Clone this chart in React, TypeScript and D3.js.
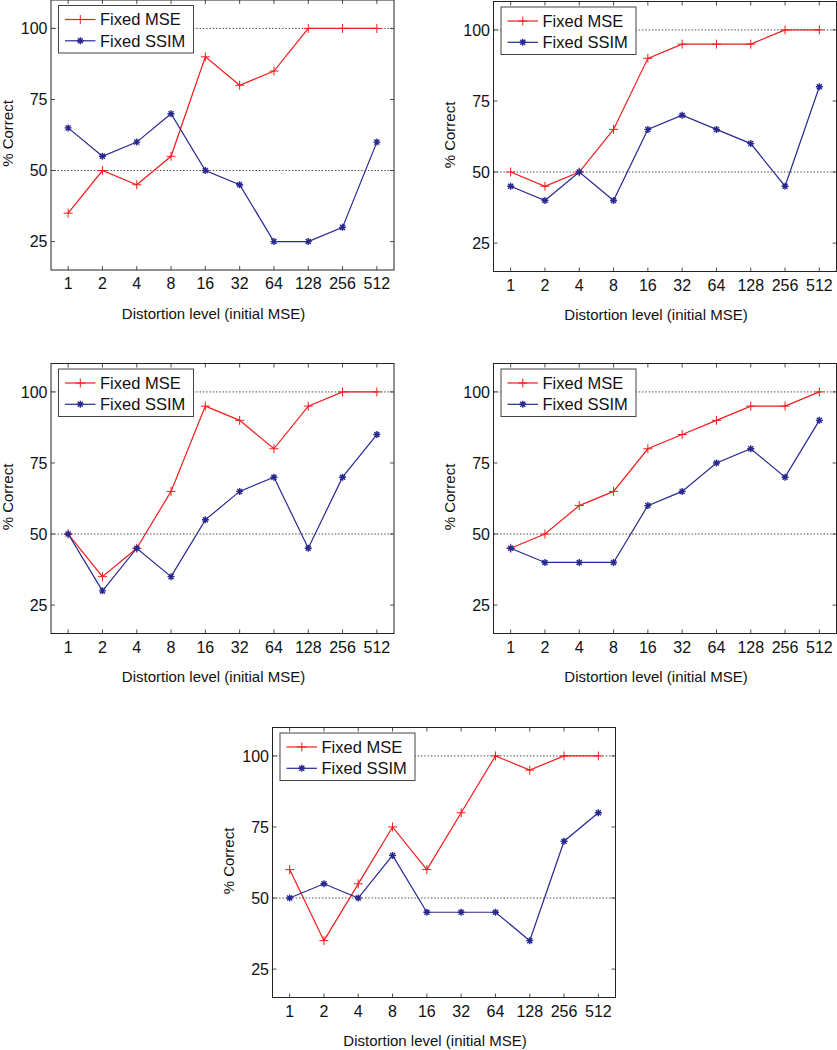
import React from "react";
import * as d3 from "d3";

const levels = ["1", "2", "4", "8", "16", "32", "64", "128", "256", "512"];
const yTicks = [25, 50, 75, 100];
const refLines = [50, 100];
const seriesNames = ["Fixed MSE", "Fixed SSIM"];

const mse1 = [35, 50, 45, 55, 90, 80, 85, 100, 100, 100];
const ssim1 = [65, 55, 60, 70, 50, 45, 25, 25, 30, 60];
const mse2 = [50, 45, 50, 65, 90, 95, 95, 95, 100, 100];
const ssim2 = [45, 40, 50, 40, 65, 70, 65, 60, 45, 80];
const mse3 = [50, 35, 45, 65, 95, 90, 80, 95, 100, 100];
const ssim3 = [50, 30, 45, 35, 55, 65, 70, 45, 70, 85];
const mse4 = [45, 50, 60, 65, 80, 85, 90, 95, 95, 100];
const ssim4 = [45, 40, 40, 40, 60, 65, 75, 80, 70, 90];
const mse5 = [60, 35, 55, 75, 60, 80, 100, 95, 100, 100];
const ssim5 = [50, 55, 50, 65, 45, 45, 45, 35, 70, 80];

const panels = [
  { left: 51, top: 0, mse: mse1, ssim: ssim1 },
  { left: 493.5, top: 1.5, mse: mse2, ssim: ssim2 },
  { left: 51, top: 363.5, mse: mse3, ssim: ssim3 },
  { left: 493.5, top: 363.5, mse: mse4, ssim: ssim4 },
  { left: 272.5, top: 727.5, mse: mse5, ssim: ssim5 },
];

const W = 343;
const H = 270;
const RED = "#f21c1c";
const BLUE = "#282891";
const FONT = "'Liberation Sans', Arial, Helvetica, sans-serif";

function Plus({ x, y, r = 4.5 }: { x: number; y: number; r?: number }) {
  return (
    <path
      d={`M${x - r},${y}H${x + r}M${x},${y - r}V${y + r}`}
      stroke={RED}
      strokeWidth={1}
      fill="none"
    />
  );
}

function Star({ x, y, r = 3.5 }: { x: number; y: number; r?: number }) {
  const d = r * 0.72;
  return (
    <path
      d={`M${x - r},${y}H${x + r}M${x},${y - r}V${y + r}M${x - d},${y - d}L${x + d},${y + d}M${x - d},${y + d}L${x + d},${y - d}`}
      stroke={BLUE}
      strokeWidth={1.4}
      fill="none"
    />
  );
}

function Panel({ left, top, mse, ssim }: { left: number; top: number; mse: number[]; ssim: number[] }) {
  const x = d3.scaleLinear().domain([-0.5, levels.length - 0.5]).range([0, W]);
  const y = d3.scaleLinear().domain([15, 110]).range([H, 0]);
  const line = d3
    .line<number>()
    .x((_, i) => x(i))
    .y((d) => y(d));
  const tl = 4;
  return (
    <g transform={`translate(${left},${top})`}>
      <rect x={0} y={0} width={W} height={H} fill="white" />
      {refLines.map((v) => (
        <line
          key={v}
          x1={0}
          x2={W}
          y1={y(v)}
          y2={y(v)}
          stroke="#222"
          strokeWidth={0.8}
          strokeDasharray="1.5 1.8"
        />
      ))}
      <path d={line(mse) || ""} fill="none" stroke={RED} strokeWidth={1.2} />
      <path d={line(ssim) || ""} fill="none" stroke={BLUE} strokeWidth={1.2} />
      {mse.map((v, i) => (
        <Plus key={"m" + i} x={x(i)} y={y(v)} />
      ))}
      {ssim.map((v, i) => (
        <Star key={"s" + i} x={x(i)} y={y(v)} />
      ))}
      {/* ticks */}
      {levels.map((l, i) => (
        <g key={l}>
          <line x1={x(i)} x2={x(i)} y1={H} y2={H - tl} stroke="#222" strokeWidth={0.8} />
          <line x1={x(i)} x2={x(i)} y1={0} y2={tl} stroke="#222" strokeWidth={0.8} />
          <text x={x(i)} y={H + 19} textAnchor="middle" fontSize={16} fontFamily={FONT} fill="#111">
            {l}
          </text>
        </g>
      ))}
      {yTicks.map((t) => (
        <g key={t}>
          <line x1={0} x2={tl} y1={y(t)} y2={y(t)} stroke="#222" strokeWidth={0.8} />
          <line x1={W} x2={W - tl} y1={y(t)} y2={y(t)} stroke="#222" strokeWidth={0.8} />
          <text x={-3.5} y={y(t)} dy="0.36em" textAnchor="end" fontSize={16} fontFamily={FONT} fill="#111">
            {t}
          </text>
        </g>
      ))}
      <rect x={0} y={0} width={W} height={H} fill="none" stroke="#222" strokeWidth={1} />
      {/* legend */}
      <g transform="translate(7.5,5.5)">
        <rect x={0} y={0} width={135} height={47.5} fill="white" stroke="#444" strokeWidth={1} />
        <line x1={6.5} x2={37} y1={14} y2={14} stroke={RED} strokeWidth={1.2} />
        <Plus x={21.8} y={14} />
        <text x={41.5} y={14} dy="0.36em" fontSize={16.5} fontFamily={FONT} fill="#111">
          {seriesNames[0]}
        </text>
        <line x1={6.5} x2={37} y1={35.3} y2={35.3} stroke={BLUE} strokeWidth={1.2} />
        <Star x={21.8} y={35.3} />
        <text x={41.5} y={35.3} dy="0.36em" fontSize={16.5} fontFamily={FONT} fill="#111">
          {seriesNames[1]}
        </text>
      </g>
      {/* axis labels */}
      <text x={W / 2 - 9} y={H + 48.5} textAnchor="middle" fontSize={15} fontFamily={FONT} fill="#111">
        Distortion level (initial MSE)
      </text>
      <text
        transform={`translate(${-38.5},${H / 2 - 1.5}) rotate(-90)`}
        textAnchor="middle"
        fontSize={15}
        fontFamily={FONT}
        fill="#111"
      >
        % Correct
      </text>
    </g>
  );
}

export default function App() {
  return (
    <div style={{ position: "absolute", left: 0, top: 0 }}>
      <svg width={837} height={1050} style={{ display: "block", background: "white" }}>
        {panels.map((p, i) => (
          <Panel key={i} {...p} />
        ))}
      </svg>
    </div>
  );
}
